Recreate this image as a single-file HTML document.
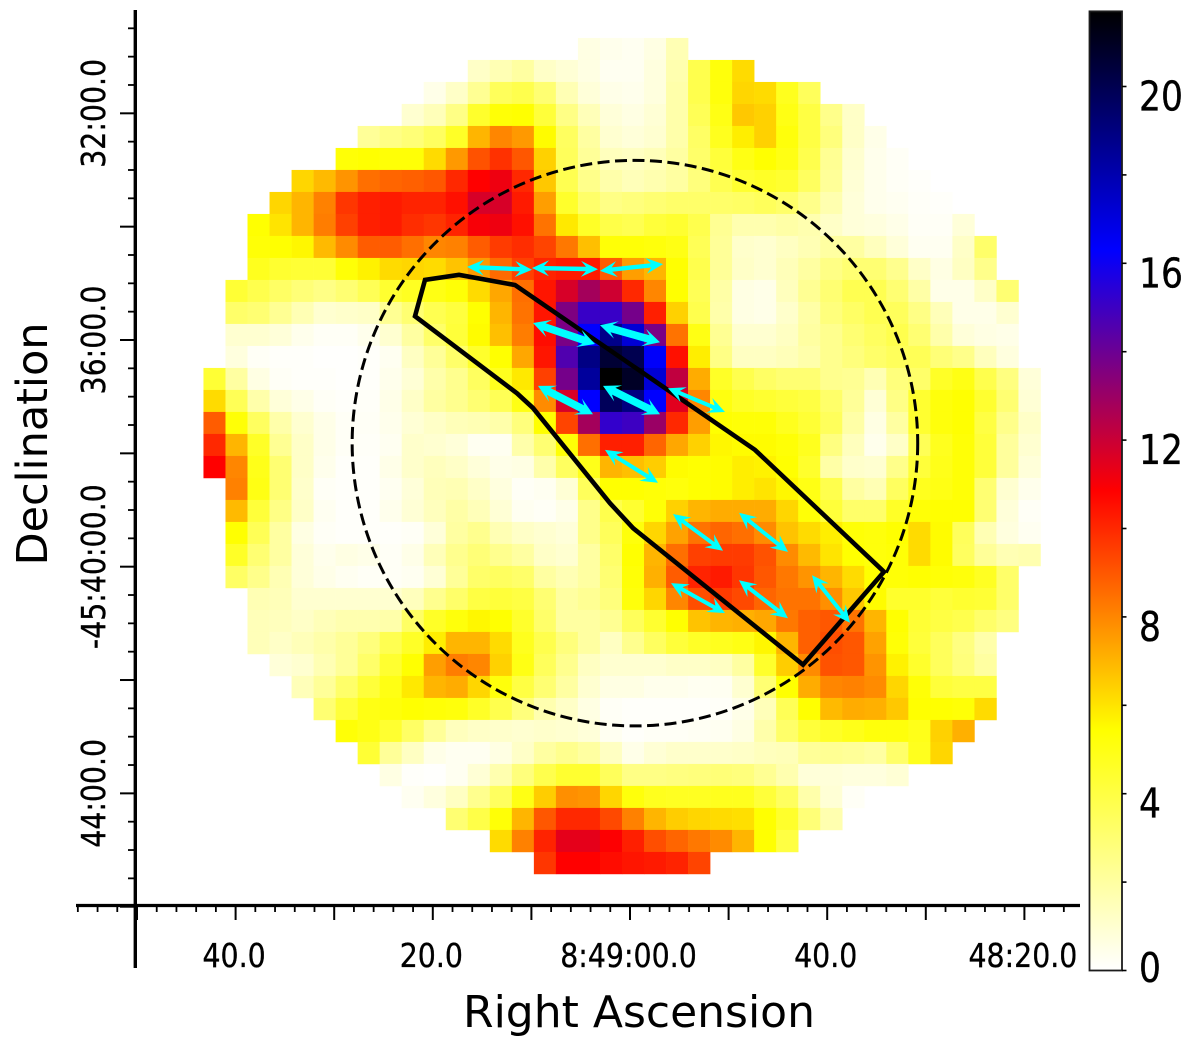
<!DOCTYPE html>
<html lang="en">
<head>
<meta charset="utf-8">
<title>Heatmap of Right Ascension and Declination</title>
<style>
html,body{margin:0;padding:0;background:#fff;width:1200px;height:1046px;overflow:hidden}
svg{display:block}
text{font-family:"DejaVu Sans","Liberation Sans",sans-serif;fill:#000}
#x-axis text,#y-axis text,#colorbar text{stroke:#000;stroke-width:.3}
</style>
</head>
<body>
<svg id="chart" xmlns="http://www.w3.org/2000/svg" width="1200" height="1046" viewBox="0 0 1200 1046">
  <defs>
    <linearGradient id="cbar-gradient" x1="0" y1="1" x2="0" y2="0"></linearGradient>
  </defs>
  <g id="heatmap"></g>
  <circle id="fov-circle" fill="none" stroke="#000" stroke-width="3" stroke-dasharray="12 5.5"></circle>
  <polygon id="region" fill="none" stroke="#000" stroke-width="4.6" stroke-linejoin="miter"></polygon>
  <g id="arrows"></g>
  <g id="x-axis"></g>
  <g id="y-axis"></g>
  <text x="639" y="1027" font-size="44" text-anchor="middle">Right Ascension</text>
  <text transform="translate(47,444) rotate(-90)" font-size="43" text-anchor="middle">Declination</text>
  <g id="colorbar"></g>
</svg>
<script>
// ---- chart data ----
const rowStartColumn = [17,12,10,9,7,6,4,3,2,2,2,1,1,1,1,0,0,0,0,0,1,1,1,1,1,2,2,2,3,4,5,6,7,8,9,11,13,15];
const heatValues = [
[.6,.4,.3,.6,1.6],
[1.2,1.6,2,1.2,.9,.6,.3,.3,.7,1.7,3.8,5.2,6.2],
[.5,1.2,2.3,3.5,3.8,3,1.6,.8,.5,.4,.7,1.8,3.8,5.2,6.3,6.2,4.8,3.5],
[1,1.5,2.6,4.5,5.3,5.4,4.2,2.6,1.5,.8,.6,.9,1.8,3.6,5,6.6,6.4,5,4,2.5,1.2],
[2.2,2.6,2.9,3.4,4.6,7,8,7.6,5.5,3.4,2,1,.8,1,1.8,3.3,4.8,5.8,6.4,5.2,4,2.8,1.2,.5],
[5.3,5.4,5.3,5.3,6.2,7.6,9.1,9.8,9,6.4,3.5,2.2,1.4,1.3,1.5,2,3.2,4.2,5,5.4,5,3.8,2.3,1,.4,.2],
[6.3,6.9,7.7,8.5,8.7,8.8,9,10,10.85,11.2,10,6.6,3.7,2.5,1.8,1.5,1.7,2,2.8,3.7,4.4,4.6,4.4,3.4,2.2,.9,.4,.2,.1],
[6.3,7,8.1,9.7,10.2,10.3,10.1,10.1,10.5,11.7,11.7,10.3,7.5,4.5,3.2,2.6,2.8,3,3.2,3.2,3.2,3.3,3.5,3.2,2.5,1.7,.8,.4,.3,.15,.1],
[5.4,6,7,8.2,9.5,10.2,10.3,9.9,9.7,10.1,11,11.2,10.5,8.4,5.9,4.6,3.9,3.7,4.2,4.4,3.8,2.3,1.7,1.7,1.9,1.7,1.2,.8,.7,.5,.2,.2,.8],
[5.3,5.4,5.6,6.9,7.9,8.9,8.9,8.5,8,8.1,8.9,9.6,9.9,9.4,8.3,6.8,5.3,5.3,5.2,5,3.6,2.2,1.1,1,1.3,1.6,2,2,1.4,.8,.3,.3,1.2,3.2],
[4.8,4.4,4.3,4.3,5.3,5.7,6.2,6.3,6.2,6.7,7.6,8.6,9.5,10.1,10.3,10.3,8.9,7.5,7,5.4,3.8,2.2,1.2,1,1.5,2,2.6,3,3,2.4,1.2,.6,1.3,2.5],
[4.3,3.8,3.3,2.9,2.6,3,3.6,4.4,4.7,5,5.3,6.2,7.3,8.5,10.4,11.7,12.8,11.9,10,8,5.4,3.6,1.9,.6,.5,1.4,2.3,3,3.7,3.7,3,1.9,.5,.5,1.2,3],
[3.2,3,2.3,1.6,1,1.1,1.2,2.3,3,3.7,4.1,5.4,7,8.4,10.4,13.6,15.1,15.1,13.8,10.2,6.4,3.8,1.8,.6,.5,1.1,1.9,2.8,3.3,3.7,3.5,2.6,1.5,.5,.5,1],
[1,1,.8,.4,.2,.2,.4,1,2,3.2,4.2,5.5,6.8,8.2,10.6,13.7,16.3,18.8,17.2,13.7,8.4,5,2.3,1,1,1.3,2,2.4,3,3.4,3.8,3,1.8,.8,.6,.5],
[.7,.2,.1,.1,.05,.05,.1,.3,1.3,2.2,3.2,4.5,5.4,7.3,10.4,14.6,18.9,20.6,20,16.4,10.5,5.8,2.6,1.3,1.3,1.5,1.8,2.4,2.8,3.2,3.5,3.6,2.9,2.5,1.4,.7],
[4.3,2,.6,.2,.1,.1,.05,.1,.4,.9,1.8,2.4,3.4,4.8,5.9,9.5,13.8,18.4,21.7,20.9,17.2,12.2,7.2,4.6,3.8,3.3,3,3,2.4,2.3,1.6,2.8,3.2,4.6,5,3.8,2.7,.8],
[6.2,3.6,1.8,.8,.5,.2,.1,.15,.5,1.2,2,2.4,3,3.6,5,7.9,11.7,16.3,19.8,19,16.3,11.5,8,5.1,4.6,4.4,4.2,4,3.2,2.2,.9,2.6,4.4,5.2,5.4,4.4,3,.9],
[8.9,5.3,3.4,1.8,1,.5,.2,.2,.4,.9,1.2,1.5,1.6,1.8,2.8,5.4,9.4,12.8,15.2,15,13,10,7.5,5.4,5.3,5.3,4.8,4.3,3.5,1.9,.6,2,4.4,5.2,5.4,4,2.5,1.2],
[10,7,4.6,2.3,1.2,.5,.2,.15,.3,1.1,1,.8,.3,.3,1.8,3,5.3,8.5,10.2,10.2,8.7,7.3,6.4,5.6,5.5,5.5,5.3,4.8,2.7,1.4,.4,1.2,3.6,4.8,5.3,4.2,2.1,1],
[10.85,8,4.9,3,1.2,.4,.1,.1,.5,1.1,1.4,1.2,.8,.5,.6,1.8,3.4,4.9,7,6.8,6.5,5.5,5.4,5.5,5.8,5.7,5.4,4.5,1.9,1.1,1,2.5,4.2,4.9,5.3,4.2,2.1,.8],
[8.1,5,3,1.1,.2,.1,.1,.3,.8,1.5,1.6,1.2,.7,.2,.3,.9,3.5,5.4,5.4,5.3,5.2,5.4,5.5,5.8,6,5.6,5,3.8,2,1.6,3.4,4.8,5,5.3,3,1,.4],
[6.9,4.2,2.6,1.2,.3,.1,.1,.4,.9,1.4,1.9,1.5,.9,.3,.2,.5,2.5,3.8,4.4,5.3,6.4,7,7.2,7.2,7.2,6.3,5.3,4.2,3.2,3.2,4.6,5.3,5.4,5.4,3,.8,.2],
[5.4,3.6,2,.6,.2,.1,.1,.1,.2,.8,2,2.4,1.6,1.2,1,.8,2.5,3.5,5.2,6.3,7.4,8.4,8.7,8.5,7.9,6.7,6.2,5.8,5.3,5.2,5.4,6.2,5.5,3.5,1.6,.7,.3],
[4.6,3,2,.8,.4,.6,.5,.2,.5,1.5,2.4,2.9,2.4,2,1.2,1,2,3.2,5.4,7,8.5,9.5,9.6,9.6,9.1,7.9,6.9,6,5.4,5.2,5.3,6.2,5.5,3.4,2.2,1.6,1.7],
[3.3,2.5,1.6,.8,.5,.3,.2,.2,.3,.9,2.2,3.2,3.4,3.2,2,1.6,2,3,5.3,7.1,8.9,10.1,10.3,9.7,9,8.3,7.7,7,6.2,5.4,5.3,5.4,5.3,5.2,4.7,3.2],
[1.6,1.5,1,1,1,1,1,1.4,2.4,3.2,4,4.2,4,3,2,2.3,2.8,5.2,6.3,8,9.2,9.6,9.3,8.7,8.4,8.4,7.8,6.6,5.5,4.5,4.5,4.2,4.4,4.3,3.2],
[1.5,1.4,1.2,1.5,1.7,1.7,1.8,3.3,4.6,5.2,5.6,5.4,4.5,3.2,2,2,2.3,3.5,4.4,5.4,6.7,7,7.1,7.3,8.3,8.8,9,8.4,7,5.4,4.3,4,3.8,3.2,2.7],
[1.5,1.2,1.5,1.8,2.2,2.8,3.7,4.6,5.8,7,7,6.2,4.8,3.8,2.8,2,1.3,2.4,3.4,4.2,4.6,4.8,5,5.6,7,8.8,9.2,9,7.4,5.3,4.2,3.5,2.7,1.8],
[.8,1,1.6,2.2,3.2,4.4,5.4,7.5,8.2,8,6.4,5,3.5,2.4,1.3,1,1,1,1.2,1.2,1.3,2,4.5,6.5,7.9,9.1,9,7.7,5.7,4.5,3.5,2.8,2],
[1.5,2.2,3.2,4.2,5,5.9,7,7.2,6.3,5.2,4,3,2,1,.6,.6,.4,.4,.3,.3,1,3,5.4,7.2,8,8.1,7.9,6.3,5.3,4.2,4,4],
[3,4.2,5,5.2,5.4,5.3,5.2,4.6,3.8,2.8,1.7,1.2,.6,.2,.1,.1,.1,.1,.15,.5,1.5,3.6,5.4,6.9,7.2,7.1,6.6,5.4,5.4,5.3,6.2],
[5.3,5,4.4,3.3,2.2,1.4,1.2,1.1,1,1.1,1,.8,.3,.1,.2,.2,.25,.3,.6,1.8,3.2,4.2,4.6,4.9,5.2,5.2,4.9,6.4,7.1],
[4.3,2.2,1.3,.5,.3,.3,.6,1.2,2,2.4,2,1.3,.5,.9,1.1,1.1,1.1,1.2,1.4,1.5,2.2,2.3,2.2,2,3.2,4.8,6.3],
[.6,.1,.05,.3,.9,1.7,2.8,3.8,4.4,4.4,3.5,2.6,2.6,2.7,2.8,2.9,2.8,2.3,1.7,.8,.8,.7,.7,.9],
[.3,.7,1.3,2.4,3.4,5,6.5,7.8,7.7,6.3,5.2,4.8,4.7,4.7,4.8,4.8,4.2,3.4,1.8,.9,.2],
[3,3.9,5.3,7,9,10,10,9.3,8.1,7,6.5,6.3,6.2,6.1,5.4,4.5,2.9,1.7],
[6.2,8.1,10.1,11.4,11.4,10.9,10.2,9.2,8.7,8.3,7.9,7,5.4,4],
[9.7,10.85,10.85,10.6,10.4,10.3,10.1,9.4]
];
const colorStopValues = [0, 5.43, 10.85, 16.3, 21.7];
const colorStopColors = [[255,255,255],[255,255,0],[255,0,0],[0,0,255],[0,0,0]];
const xTickValues = [40, 20, 0, -20, -40];
const xTickLabels = ["40.0", "20.0", "8:49:00.0", "40.0", "48:20.0"];
const yTickValues = [32, 36, 40, 44];
const yTickLabels = ["32:00.0", "36:00.0", "-45:40:00.0", "44:00.0"];
const colorbarTickValues = [0, 4, 8, 12, 16, 20];
const colorbarTickLabels = ["0", "4", "8", "12", "16", "20"];
const colorbarMinorValues = [2, 6, 10, 14, 18];
const circleCenterRa = -0.5;
const circleCenterDec = 37.82;
const circleRadiusDec = 4.99;
const regionRa  = [20.79, 17.34, 11.66, -12.68, -25.76, -17.55, -0.30, 2.03, 9.84, 11.46, 21.81];
const regionDec = [34.94, 34.85, 35.03, 37.94, 40.09, 41.73, 39.32, 38.88, 37.20, 36.94, 35.58];
const arrowRaA  = [16.53, 9.94, 3.04, 9.84, 3.04, 9.33, 2.74, -3.85, 2.54, -4.36, -11.05, -4.16, -11.05, -18.46];
const arrowDecA = [34.71, 34.73, 34.78, 35.70, 35.74, 36.81, 36.81, 36.85, 37.94, 39.07, 39.05, 40.29, 40.24, 40.15];
const arrowRaB  = [9.94, 3.25, -3.35, 3.55, -3.04, 3.75, -3.04, -9.63, -2.84, -9.43, -16.02, -9.63, -16.02, -22.31];
const arrowDecB = [34.76, 34.75, 34.66, 36.07, 36.04, 37.31, 37.31, 37.27, 38.52, 39.72, 39.74, 40.82, 40.91, 40.99];
const arrowWeight = [2, 2, 2, 3, 3, 3, 3, 1, 1, 1, 1, 1, 1, 1];

// ---- axis functions ----
const xScale = ra => 630 - 9.86 * ra;
const yScale = dec => 340 + 56.67 * (dec - 36);
const cbarScale = v => 970.5 - 44.2 * v;
const raFirstEdge = 43.26, raPerColumn = 2.234;
const decFirstEdge = 30.67, decPerRow = 0.3882;
const SVGNS = "http://www.w3.org/2000/svg";

function colorFor(v) {
  const n = colorStopValues.length;
  if (v <= colorStopValues[0]) return colorStopColors[0];
  for (let i = 1; i < n; i++) {
    if (v <= colorStopValues[i]) {
      const t = (v - colorStopValues[i-1]) / (colorStopValues[i] - colorStopValues[i-1]);
      const a = colorStopColors[i-1], b = colorStopColors[i];
      return [0,1,2].map(k => Math.round(a[k] + (b[k] - a[k]) * t));
    }
  }
  return colorStopColors[n-1];
}
function make(tag, attrs, parent) {
  const el = document.createElementNS(SVGNS, tag);
  for (const k in attrs) el.setAttribute(k, attrs[k]);
  parent.appendChild(el);
  return el;
}

// ---- heatmap ----
const heatmap = document.getElementById("heatmap");
heatValues.forEach((row, r) => {
  row.forEach((v, k) => {
    const col = rowStartColumn[r] + k;
    const x0 = xScale(raFirstEdge - raPerColumn * col);
    const x1 = xScale(raFirstEdge - raPerColumn * (col + 1));
    const y0 = yScale(decFirstEdge + decPerRow * r);
    const y1 = yScale(decFirstEdge + decPerRow * (r + 1));
    const c = colorFor(v);
    const cell = make("rect", {x:x0.toFixed(2), y:y0.toFixed(2), width:(x1-x0+0.3).toFixed(2), height:(y1-y0+0.3).toFixed(2), fill:"rgb("+c.join(",")+")"}, heatmap);
    
    
  });
});

// ---- circle and region ----
const circle = document.getElementById("fov-circle");
circle.setAttribute("cx", xScale(circleCenterRa));
circle.setAttribute("cy", yScale(circleCenterDec));
circle.setAttribute("r", 56.67 * circleRadiusDec);
document.getElementById("region").setAttribute("points",
  regionRa.map((ra, i) => xScale(ra).toFixed(1) + "," + yScale(regionDec[i]).toFixed(1)).join(" "));

// ---- arrows ----
const arrowLayer = document.getElementById("arrows");
arrowRaA.forEach((ra, i) => {
  const ax = xScale(ra), ay = yScale(arrowDecA[i]);
  const bx = xScale(arrowRaB[i]), by = yScale(arrowDecB[i]);
  const len = Math.hypot(bx - ax, by - ay);
  const ux = (bx - ax) / len, uy = (by - ay) / len;
  const nx = -uy, ny = ux;
  const weight = arrowWeight[i];
  const sw = weight === 3 ? 3.8 : (weight === 2 ? 2.2 : 2);
  const hw = weight === 3 ? 9 : 8;
  const hl = 17, notch = 12;
  const p = (d, o) => (ax + ux*d + nx*o).toFixed(1) + "," + (ay + uy*d + ny*o).toFixed(1);
  const pts = [
    p(0,0), p(hl,hw), p(notch,sw), p(len-notch,sw), p(len-hl,hw),
    p(len,0), p(len-hl,-hw), p(len-notch,-sw), p(notch,-sw), p(hl,-hw)
  ].join(" ");
  const arrow = make("polygon", {points:pts, fill:"#00ffff"}, arrowLayer);
  
  
});

// ---- x axis ----
const xAxis = document.getElementById("x-axis");
const xLine = make("line", {x1:76, x2:1080, y1:905.5, y2:905.5, stroke:"#000", "stroke-width":3.2}, xAxis);


for (let k = -23; k <= 28; k++) {
  const sec = k * 2;
  const x = xScale(sec);
  if (x < 76 || x > 1080) continue;
  const big = sec % 10 === 0;
  const tick = make("line", {x1:x, x2:x, y1:905, y2: big ? 920 : 912, stroke:"#000", "stroke-width":big ? 2 : 1.8}, xAxis);
  
  
}
xTickValues.forEach((v, i) => {
  const t = make("text", {transform:"translate(" + (xScale(v) - 1.5) + ",967) scale(1,1.17)", "font-size":28.4, "text-anchor":"middle"}, xAxis);
  t.textContent = xTickLabels[i];
  
  
});

// ---- y axis ----
const yAxis = document.getElementById("y-axis");
const yLine = make("line", {x1:135.3, x2:135.3, y1:10, y2:968, stroke:"#000", "stroke-width":3.4}, yAxis);


for (let k = 60; k <= 92; k++) {
  const dec = k * 0.5;
  const y = yScale(dec);
  if (y < 12 || y > 967) continue;
  const big = k % 4 === 0;
  const tick = make("line", {x1: big ? 120 : 128, x2:135, y1:y, y2:y, stroke:"#000", "stroke-width":big ? 2 : 1.8}, yAxis);
  
  
}
yTickValues.forEach((v, i) => {
  const t = make("text", {transform:"translate(105," + yScale(v) + ") rotate(-90) scale(1,1.17)", "font-size":28.4, "text-anchor":"middle"}, yAxis);
  t.textContent = yTickLabels[i];
  
  
});

// ---- colorbar ----
const gradient = document.getElementById("cbar-gradient");
colorStopValues.forEach((v, i) => {
  const s = make("stop", {offset:(v / colorStopValues[colorStopValues.length-1]).toFixed(4), "stop-color":"rgb(" + colorStopColors[i].join(",") + ")"}, gradient);
  
  
});
const cbar = document.getElementById("colorbar");
const topValue = colorStopValues[colorStopValues.length-1];
const bar = make("rect", {x:1089.5, y:cbarScale(topValue), width:32.5, height:cbarScale(0)-cbarScale(topValue), fill:"url(#cbar-gradient)", stroke:"#1c1c1c", "stroke-width":1.8}, cbar);


colorbarTickValues.concat(colorbarMinorValues).forEach(v => {
  const tick = make("line", {x1:1122, x2:1126.5, y1:cbarScale(v), y2:cbarScale(v), stroke:"#000", "stroke-width":1.6}, cbar);
  
  
});
colorbarTickValues.forEach((v, i) => {
  const yBase = v === 0 ? 982 : cbarScale(v) + 24;
  const t = make("text", {transform:"translate(1139," + yBase + ") scale(1,1.18)", "font-size":34.5}, cbar);
  t.textContent = colorbarTickLabels[i];
  
  
});
</script>
</body>
</html>
